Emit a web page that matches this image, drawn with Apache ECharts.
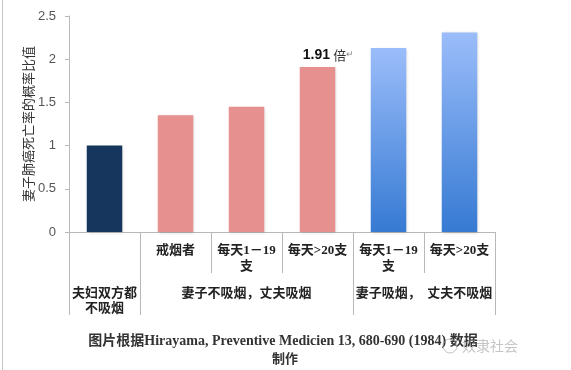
<!DOCTYPE html>
<html>
<head>
<meta charset="utf-8">
<script src="https://cdn.jsdelivr.net/npm/echarts@6/dist/echarts.min.js"></script>
<style>
html,body{margin:0;padding:0;background:#fff;}
#chart{width:571px;height:370px;}
</style>
</head>
<body>
<div id="chart"></div>
<script>
// ---- data ----
var categories = ["", "戒烟者", "每天1－19\n支", "每天>20支", "每天1－19\n支", "每天>20支"];
var values = [1.00, 1.35, 1.45, 1.91, 2.13, 2.31];
var colorGroup = [0, 1, 1, 1, 2, 2];
var groupNames = ["夫妇双方都\n不吸烟", "妻子不吸烟，丈夫吸烟", "妻子吸烟，  丈夫不吸烟"];
var groupStart = [0, 1, 4];
var groupEnd = [1, 4, 6];
var yTicks = [0, 0.5, 1, 1.5, 2, 2.5];
var annotatedIndex = 3;
var annotationUnit = "倍";
var yAxisName = "妻子肺癌死亡率的概率比值";
var footerLine1 = "图片根据Hirayama, Preventive Medicien 13, 680-690 (1984) 数据";
var footerLine2 = "制作";
var watermark = "奴隶社会";

// ---- styles ----
var palette = [
  '#17365d',
  '#e69190',
  new echarts.graphic.LinearGradient(0, 0, 0, 1, [
    {offset: 0, color: '#9bbdfa'},
    {offset: 1, color: '#367ad3'}
  ])
];
var lineGray = '#b8b8b8';
var cjkBold = "'Liberation Serif', 'Noto Sans CJK SC', serif";

var groupCenters = groupNames.map(function (n, i) { return (groupStart[i] + groupEnd[i]) / 2; });
var groupBounds = [0].concat(groupEnd);

var seriesData = values.map(function (v, i) {
  var item = {value: v, itemStyle: {color: palette[colorGroup[i]]}};
  if (i === annotatedIndex) {
    item.label = {
      show: true,
      position: 'top',
      offset: [11, 0],
      formatter: '{a|' + v.toFixed(2) + '} {b|' + annotationUnit + '}{c|↵}',
      rich: {
        a: {fontSize: 14, fontWeight: 'bold', color: '#111', fontFamily: "'Liberation Sans', Arial, sans-serif"},
        b: {fontSize: 13, color: '#333', fontFamily: "'Noto Sans CJK SC', sans-serif"},
        c: {fontSize: 9, color: '#888'}
      }
    };
  }
  return item;
});

var chart = echarts.init(document.getElementById('chart'), null, {renderer: 'canvas'});
chart.setOption({
  animation: false,
  backgroundColor: '#fff',
  grid: {left: 69, right: 76, top: 16, bottom: 138, containLabel: false},
  xAxis: [{
    type: 'category',
    data: categories,
    position: 'bottom',
    axisLine: {show: true, lineStyle: {color: lineGray, width: 1}},
    axisTick: {show: true, interval: 0, length: 41, lineStyle: {color: lineGray}},
    axisLabel: {
      interval: 0, margin: 11, fontSize: 13, fontWeight: 'bold', color: '#222',
      fontFamily: cjkBold, lineHeight: 16
    },
    splitLine: {show: false}
  }, {
    type: 'value',
    min: 0, max: categories.length,
    position: 'bottom',
    axisLine: {show: false},
    axisTick: {show: true, customValues: groupBounds, length: 83, lineStyle: {color: lineGray}},
    axisLabel: {
      show: true, customValues: groupCenters, margin: 54,
      fontSize: 13, fontWeight: 'bold', color: '#222', fontFamily: cjkBold, lineHeight: 15,
      formatter: function (v) {
        for (var i = 0; i < groupCenters.length; i++) {
          if (Math.abs(groupCenters[i] - v) < 1e-6) return groupNames[i];
        }
        return '';
      }
    },
    splitLine: {show: false}
  }],
  yAxis: {
    type: 'value',
    min: yTicks[0], max: yTicks[yTicks.length - 1], interval: yTicks[1] - yTicks[0],
    name: yAxisName,
    nameLocation: 'middle',
    nameRotate: 90,
    nameGap: 34,
    nameMoveOverlap: false,
    nameTextStyle: {fontSize: 13, color: '#333', fontFamily: "'Noto Sans CJK SC', sans-serif"},
    axisLine: {show: true, lineStyle: {color: lineGray}},
    axisTick: {show: true, length: 4, lineStyle: {color: lineGray}},
    axisLabel: {margin: 13, fontSize: 13, color: '#555', fontFamily: "'Liberation Sans', Arial, sans-serif"},
    splitLine: {show: false}
  },
  series: [{
    type: 'bar',
    xAxisIndex: 0,
    barWidth: '50%',
    data: seriesData,
    itemStyle: {shadowColor: 'rgba(0,0,0,0.18)', shadowBlur: 3, shadowOffsetX: 1, shadowOffsetY: 1}
  }],
  graphic: [
    {type: 'line', shape: {x1: 2.5, y1: 0, x2: 2.5, y2: 370}, style: {stroke: '#c8c8c8', lineWidth: 1}},
    {type: 'text', x: 283, y: 341, style: {text: footerLine1, textAlign: 'center', textVerticalAlign: 'middle',
      fontSize: 14, fontWeight: 'bold', fill: '#333', fontFamily: "'Liberation Serif', 'Noto Sans CJK SC', serif"}},
    {type: 'text', x: 285, y: 358, style: {text: footerLine2, textAlign: 'center', textVerticalAlign: 'middle',
      fontSize: 13, fontWeight: 'bold', fill: '#333', fontFamily: "'Noto Sans CJK SC', sans-serif"}},
    {type: 'circle', shape: {cx: 450, cy: 346, r: 7}, style: {fill: 'none', stroke: 'rgba(150,150,150,0.55)', lineWidth: 1}},
    {type: 'text', x: 462, y: 346, style: {text: watermark, textVerticalAlign: 'middle',
      fill: 'rgba(150,150,150,0.55)', fontSize: 14, fontFamily: "'Noto Sans CJK SC', sans-serif"}}
  ]
});
</script>
</body>
</html>
